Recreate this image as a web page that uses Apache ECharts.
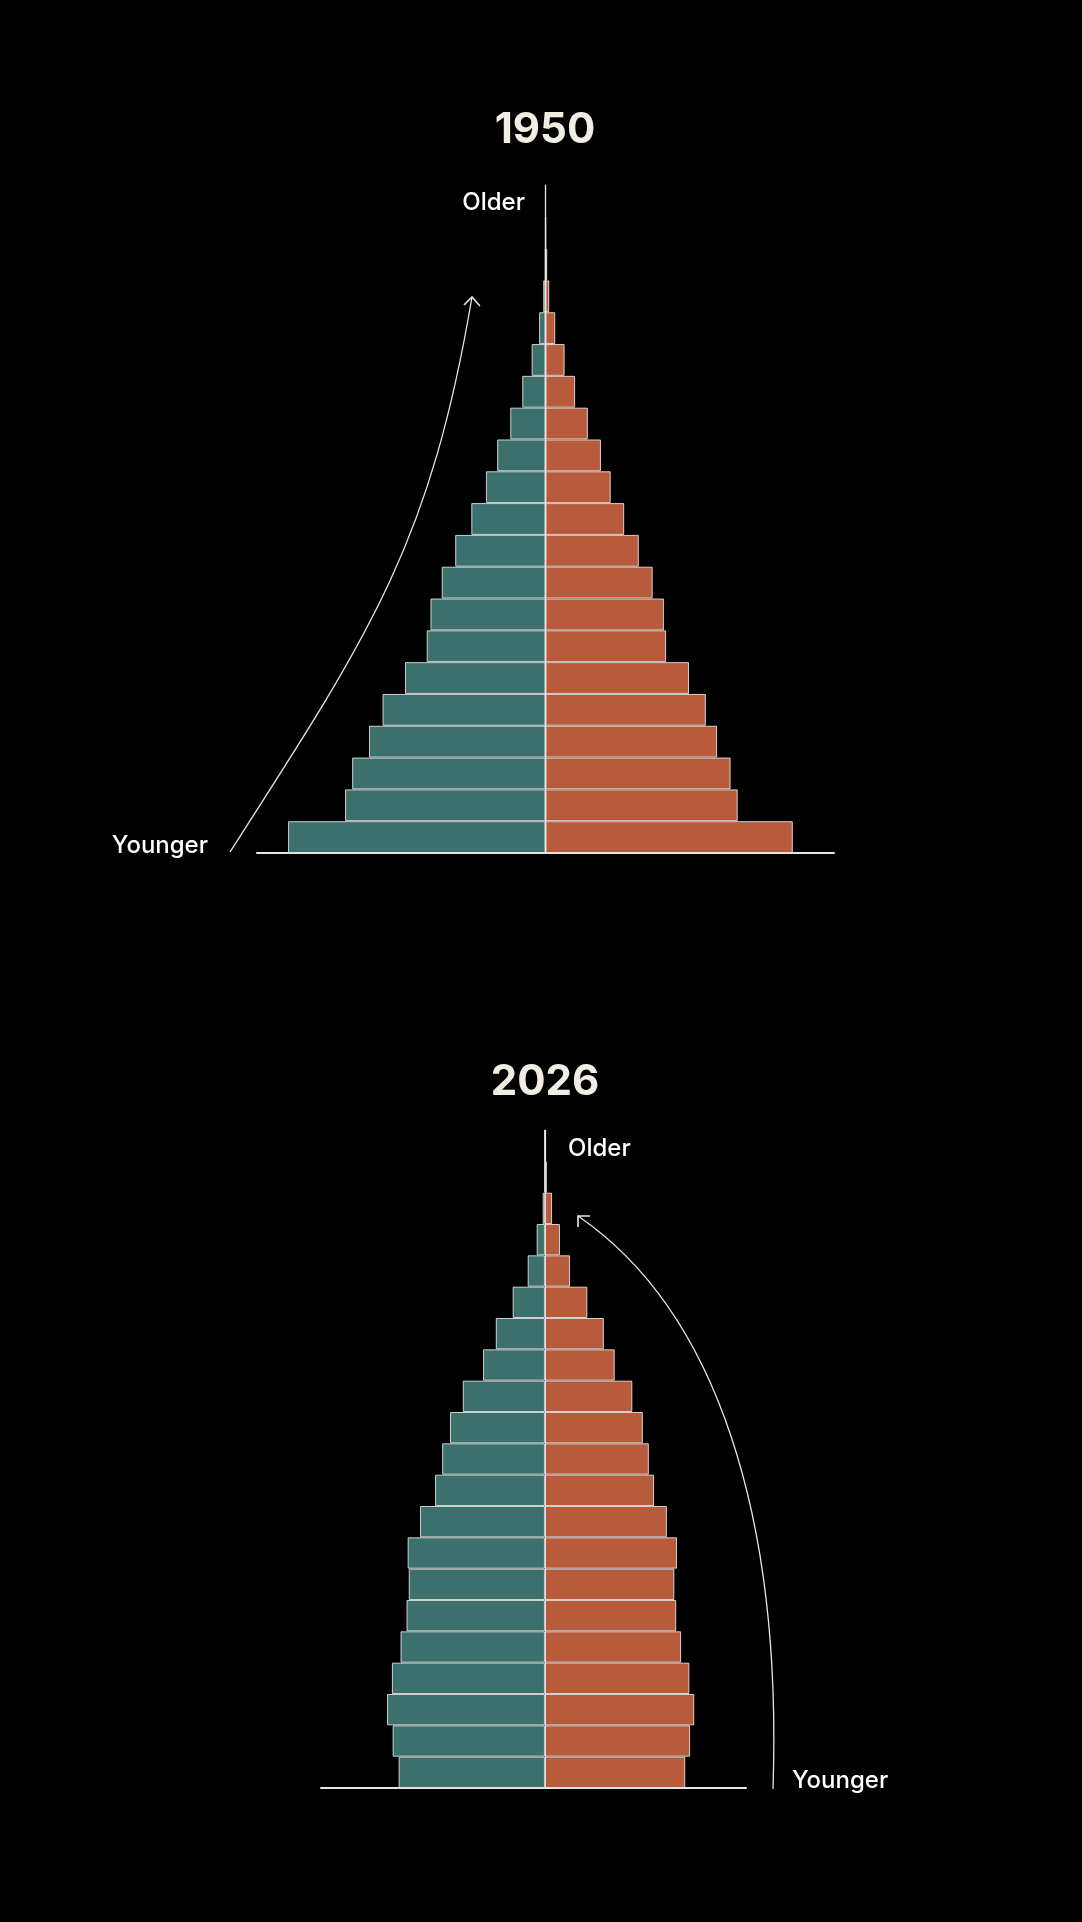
<!DOCTYPE html>
<html>
<head>
<meta charset="utf-8">
<title>Population pyramid 1950 / 2026</title>
<script src="https://cdn.jsdelivr.net/npm/echarts@6/dist/echarts.min.js"></script>
<style>
  html, body { margin: 0; padding: 0; background: #000; }
  #chart { width: 1082px; height: 1922px; }
</style>
</head>
<body>
<div id="chart"></div>
<script>
// age groups, youngest first (bottom of the pyramid)
const ageGroups = ['0-4', '5-9', '10-14', '15-19', '20-24', '25-29', '30-34', '35-39', '40-44', '45-49',
  '50-54', '55-59', '60-64', '65-69', '70-74', '75-79', '80-84', '85-89', '90-94', '95-99', '100+'];

// share of total population, %
const male1950 = [6.87, 5.35, 5.16, 4.71, 4.35, 3.75, 3.17, 3.07, 2.77, 2.41,
  1.98, 1.59, 1.29, 0.94, 0.62, 0.37, 0.17, 0.06, 0.01, 0.004, 0.001];
const female1950 = [6.60, 5.13, 4.94, 4.58, 4.28, 3.83, 3.22, 3.16, 2.86, 2.49,
  2.10, 1.74, 1.48, 1.13, 0.79, 0.51, 0.26, 0.10, 0.045, 0.01, 0.002];

const male2026 = [3.90, 4.06, 4.21, 4.08, 3.85, 3.69, 3.63, 3.66, 3.33, 2.93,
  2.74, 2.53, 2.19, 1.65, 1.31, 0.86, 0.46, 0.22, 0.06, 0.008, 0.001];
const female2026 = [3.74, 3.87, 3.98, 3.85, 3.63, 3.50, 3.45, 3.52, 3.25, 2.91,
  2.77, 2.61, 2.33, 1.86, 1.57, 1.13, 0.67, 0.40, 0.19, 0.05, 0.008];

const years = ['1950', '2026'];

const maleColor = '#3b706c';
const femaleColor = '#b85b3c';
const lineColor = '#e6e6e6';
const font = 'Inter, "Noto Sans", sans-serif';

const chart = echarts.init(document.getElementById('chart'));

function valueAxis(idx, min, max) {
  return {
    type: 'value',
    gridIndex: idx,
    min: min,
    max: max,
    axisLine: { show: true, lineStyle: { color: lineColor, width: 2 } },
    axisTick: { show: false },
    axisLabel: { show: false },
    splitLine: { show: false }
  };
}

function ageAxis(idx) {
  return {
    type: 'category',
    gridIndex: idx,
    data: ageGroups,
    axisLine: { show: true, onZero: true, lineStyle: { color: lineColor, width: 1.2 } },
    axisTick: { show: false },
    axisLabel: { show: false }
  };
}

function barSeries(name, idx, values, color, negative) {
  return {
    name: name,
    type: 'bar',
    xAxisIndex: idx,
    yAxisIndex: idx,
    stack: 'pyramid' + idx,
    barCategoryGap: '0%',
    data: values.map(v => negative ? -v : v),
    itemStyle: {
      color: color,
      borderColor: 'rgba(235,235,235,0.85)',
      borderWidth: 1
    }
  };
}

function label(text, x, y, align, size, weight, color) {
  return {
    type: 'text',
    x: x,
    y: y,
    style: {
      text: text,
      fill: color,
      font: weight + ' ' + size + 'px ' + font,
      align: align,
      verticalAlign: 'middle',
      textAlign: align,
      textVerticalAlign: 'middle'
    }
  };
}

const option = {
  backgroundColor: '#000',
  animation: false,
  grid: [
    { left: 257, top: 185, width: 577, height: 668 },
    { left: 321, top: 1130, width: 425, height: 658 }
  ],
  xAxis: [valueAxis(0, -7.7, 7.7), valueAxis(1, -5.97, 5.36)],
  yAxis: [ageAxis(0), ageAxis(1)],
  series: [
    barSeries('Male 1950', 0, male1950, maleColor, true),
    barSeries('Female 1950', 0, female1950, femaleColor, false),
    barSeries('Male 2026', 1, male2026, maleColor, true),
    barSeries('Female 2026', 1, female2026, femaleColor, false)
  ],
  graphic: [
    label(years[0], 545, 130, 'center', 42, 'bold', '#f2ede3'),
    label(years[1], 545, 1082, 'center', 42, 'bold', '#f2ede3'),
    label('Older', 525, 203, 'right', 24, '500', '#fff'),
    label('Younger', 208, 846, 'right', 24, '500', '#fff'),
    label('Older', 568, 1149, 'left', 24, '500', '#fff'),
    label('Younger', 792, 1781, 'left', 24, '500', '#fff'),
    // age arrows
    {
      type: 'bezierCurve',
      shape: { x1: 230, y1: 852, cpx1: 370, cpy1: 634, cpx2: 430, cpy2: 545, x2: 472, y2: 297 },
      style: { stroke: lineColor, lineWidth: 1.3, fill: null }
    },
    {
      type: 'polyline',
      shape: { points: [[464, 305], [472, 297], [480, 306]] },
      style: { stroke: lineColor, lineWidth: 1.6, fill: null }
    },
    {
      type: 'bezierCurve',
      shape: { x1: 773, y1: 1789, cpx1: 782, cpy1: 1519, cpx2: 718, cpy2: 1312, x2: 578, y2: 1216 },
      style: { stroke: lineColor, lineWidth: 1.3, fill: null }
    },
    {
      type: 'polyline',
      shape: { points: [[590, 1216], [578, 1216], [578, 1227]] },
      style: { stroke: lineColor, lineWidth: 1.6, fill: null }
    }
  ]
};

chart.setOption(option);
</script>
</body>
</html>
